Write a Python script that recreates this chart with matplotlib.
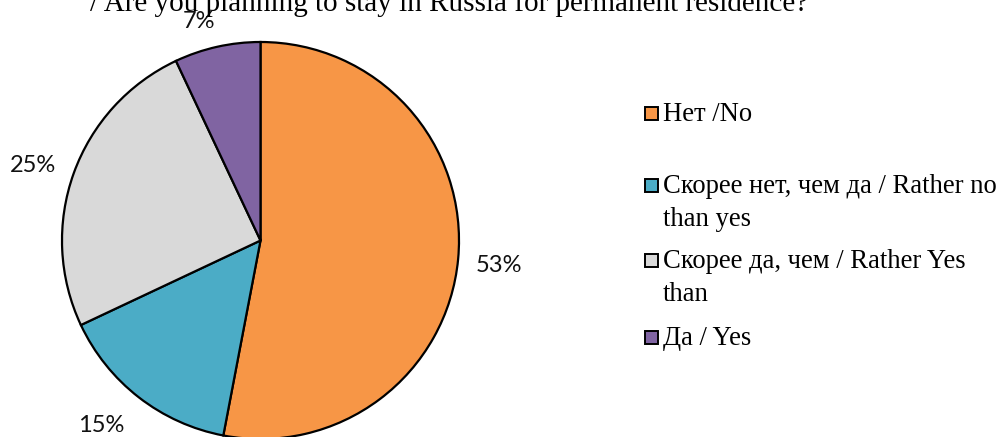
import matplotlib
matplotlib.use("Agg")
import matplotlib.pyplot as plt
from matplotlib.patches import Rectangle

categories = ["Нет /No", "Скорее нет, чем да / Rather no\nthan yes",
              "Скорее да, чем / Rather Yes\nthan", "Да / Yes"]
values = [53, 15, 25, 7]
colors = ["#F79646", "#4BACC6", "#D9D9D9", "#8064A2"]
label_text = ["53%", "15%", "25%", "7%"]
title = "/ Are you planning to stay in Russia for permanent residence?"

W, H = 1006, 437
fig = plt.figure(figsize=(W / 100, H / 100), dpi=100)

cx, cy, r = 260.5, 240.5, 198.5
ax = fig.add_axes([(cx - r) / W, (H - cy - r) / H, 2 * r / W, 2 * r / H])
wedges, _ = ax.pie(values, colors=colors, startangle=90, counterclock=False,
                   radius=1.0, wedgeprops=dict(edgecolor="black", linewidth=1.6))
ax.set_xlim(-1, 1)
ax.set_ylim(-1, 1)
ax.set_aspect("equal")
ax.axis("off")
for w in wedges:
    w.set_clip_on(False)

# percentage labels (pixel positions of label centers)
label_pos = [(499, 266), (101, 425), (33, 166), (199, 22)]
for txt, (px, py) in zip(label_text, label_pos):
    fig.text(px / W, 1 - py / H, txt, ha="center", va="center",
             fontsize=17, family="Lato", color="#111111")

fig.text(90 / W, 1 - 11 / H, title, ha="left", va="baseline",
         fontsize=21, family="Liberation Serif", color="black")

# legend
leg_y = [113, 185, 260, 337]
for cat, col, py in zip(categories, colors, leg_y):
    s = 13
    fig.patches.append(Rectangle(((645) / W, 1 - (py + s / 2) / H), s / W, s / H,
                                 facecolor=col, edgecolor="black", linewidth=1.4,
                                 transform=fig.transFigure, figure=fig))
    lines = cat.split("\n")
    for i, ln in enumerate(lines):
        fig.text(663 / W, 1 - (py + 8 + i * 33) / H, ln, ha="left", va="baseline",
                 fontsize=19.2, family="Liberation Serif", color="black")

fig.savefig("out.png", dpi=100)
